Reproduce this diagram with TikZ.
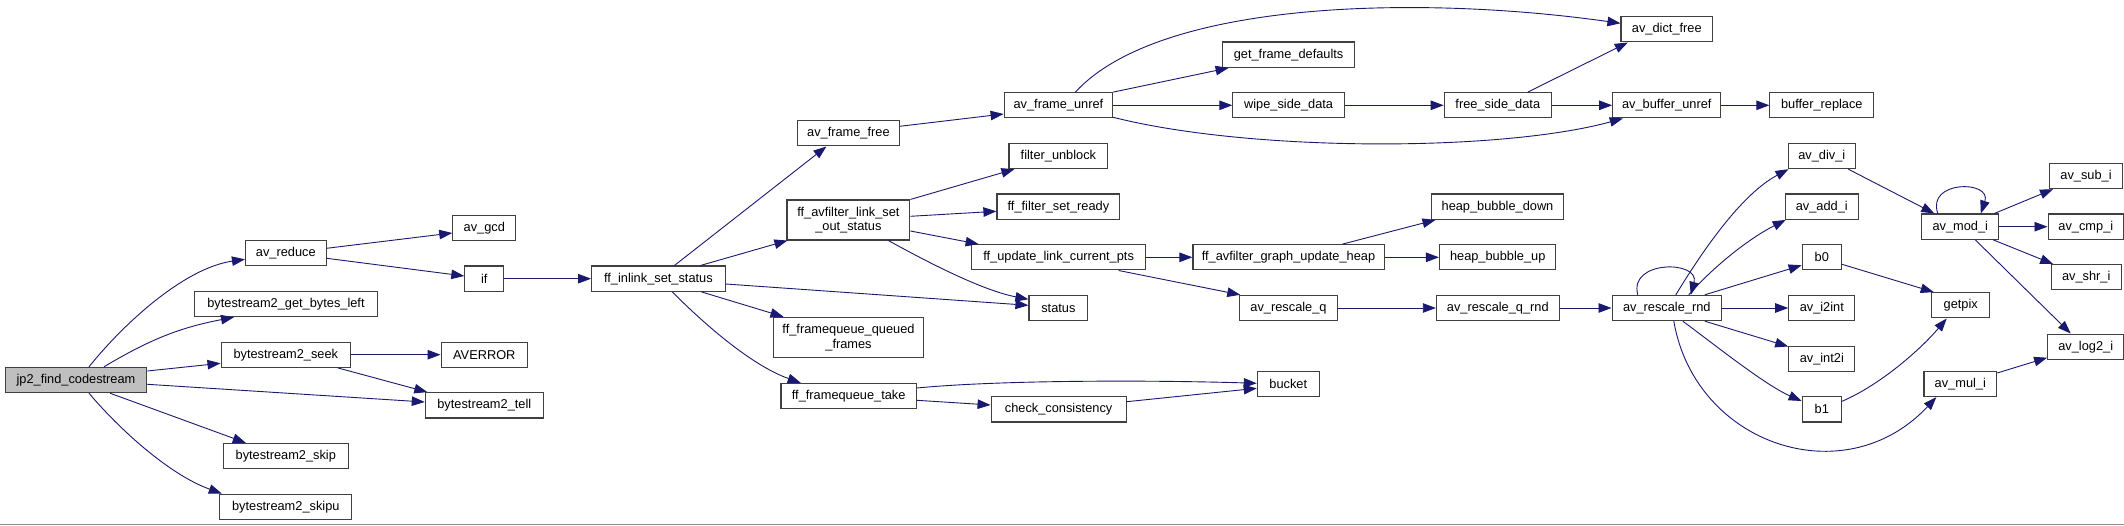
\documentclass[tikz,border=0pt]{standalone}
\usepackage{fontspec}
\setmainfont{Liberation Sans}
\usetikzlibrary{arrows.meta}
\definecolor{edgecol}{RGB}{25,25,112}
\definecolor{boxline}{RGB}{64,64,64}
\definecolor{rootfill}{RGB}{191,191,191}
\tikzset{
  box/.style={draw=boxline, line width=1.1pt, fill=white, inner sep=0pt, minimum height=25.3pt, align=center, font=\fontsize{12.8}{14.7}\selectfont},
  tall/.style={minimum height=40pt},
  root/.style={fill=rootfill},
  edge/.style={draw=edgecol, line width=0.9pt, -{Triangle[length=13pt,width=9.5pt]}}
}
\begin{document}
\begin{tikzpicture}[x=1pt,y=1pt]
\useasboundingbox (0,0) rectangle (2124,-526);
\fill[white] (0,0) rectangle (2124,-526);
\draw[line width=1.2pt, draw=black!45] (0,-524.8) -- (2124,-524.8);

% nodes
\node[box,root,minimum width=141.5pt] (jp2) at (76,-380) {jp2\_find\_codestream};
\node[box,minimum width=80.6pt] (reduce) at (285.8,-253.3) {av\_reduce};
\node[box,minimum width=63pt] (gcd) at (484.3,-228) {av\_gcd};
\node[box,minimum width=38.9pt] (if) at (484.3,-278.7) {if};
\node[box,minimum width=182.8pt] (gbl) at (286,-304) {bytestream2\_get\_bytes\_left};
\node[box,minimum width=129.5pt] (seek) at (285.8,-354.7) {bytestream2\_seek};
\node[box,minimum width=86.4pt] (averror) at (484.3,-354.7) {AVERROR};
\node[box,minimum width=118pt] (tell) at (484.3,-405.3) {bytestream2\_tell};
\node[box,minimum width=125.4pt] (skip) at (285.8,-456) {bytestream2\_skip};
\node[box,minimum width=132.2pt] (skipu) at (285.8,-506.7) {bytestream2\_skipu};
\node[box,minimum width=133.6pt] (inlink) at (658.4,-278.7) {ff\_inlink\_set\_status};
\node[box,minimum width=101.5pt] (frfree) at (848.4,-133.3) {av\_frame\_free};
\node[box,tall,minimum width=122.9pt] (lsos) at (848.4,-220) {ff\_avfilter\_link\_set\\\_out\_status};
\node[box,tall,minimum width=150.8pt] (qf) at (848.5,-337.3) {ff\_framequeue\_queued\\\_frames};
\node[box,minimum width=135.4pt] (take) at (848.7,-396) {ff\_framequeue\_take};
\node[box,minimum width=108.5pt] (unref) at (1058.4,-105.3) {av\_frame\_unref};
\node[box,minimum width=98.9pt] (fu) at (1058.4,-156) {filter\_unblock};
\node[box,minimum width=122.9pt] (fsr) at (1058.4,-206.7) {ff\_filter\_set\_ready};
\node[box,minimum width=173.6pt] (ulcp) at (1058.6,-257.3) {ff\_update\_link\_current\_pts};
\node[box,minimum width=58.9pt] (status) at (1058.4,-308) {status};
\node[box,minimum width=135pt] (cc) at (1058.6,-409.3) {check\_consistency};
\node[box,minimum width=131.5pt] (gfd) at (1288.6,-54.7) {get\_frame\_defaults};
\node[box,minimum width=111.5pt] (wipe) at (1288.6,-105.3) {wipe\_side\_data};
\node[box,minimum width=191.1pt] (guh) at (1288.5,-257.3) {ff\_avfilter\_graph\_update\_heap};
\node[box,minimum width=97.4pt] (rq) at (1288.5,-308) {av\_rescale\_q};
\node[box,minimum width=62pt] (bucket) at (1288.3,-384) {bucket};
\node[box,minimum width=107.1pt] (fsd) at (1497.8,-105.3) {free\_side\_data};
\node[box,minimum width=132.6pt] (hbd) at (1497.5,-206.7) {heap\_bubble\_down};
\node[box,minimum width=116.4pt] (hbu) at (1497.7,-257.3) {heap\_bubble\_up};
\node[box,minimum width=122.9pt] (rqr) at (1497.8,-308) {av\_rescale\_q\_rnd};
\node[box,minimum width=91.6pt] (dictfree) at (1666.8,-29.3) {av\_dict\_free};
\node[box,minimum width=108.2pt] (bufunref) at (1666.8,-105.3) {av\_buffer\_unref};
\node[box,minimum width=109.5pt] (rnd) at (1666.8,-308) {av\_rescale\_rnd};
\node[box,minimum width=103.9pt] (bufrep) at (1821.8,-105.3) {buffer\_replace};
\node[box,minimum width=67.5pt] (divi) at (1821.8,-156) {av\_div\_i};
\node[box,minimum width=73.1pt] (addi) at (1821.8,-206.7) {av\_add\_i};
\node[box,minimum width=39.3pt] (b0) at (1821.8,-257.3) {b0};
\node[box,minimum width=66.1pt] (i2int) at (1821.8,-308) {av\_i2int};
\node[box,minimum width=66.1pt] (int2i) at (1821.8,-358.7) {av\_int2i};
\node[box,minimum width=39.3pt] (b1) at (1821.8,-409.3) {b1};
\node[box,minimum width=76.8pt] (modi) at (1960.3,-226.7) {av\_mod\_i};
\node[box,minimum width=58.2pt] (getpix) at (1960.7,-305.3) {getpix};
\node[box,minimum width=72.7pt] (muli) at (1960.3,-384) {av\_mul\_i};
\node[box,minimum width=73.3pt] (subi) at (2086,-176) {av\_sub\_i};
\node[box,minimum width=75.5pt] (cmpi) at (2085.8,-226.7) {av\_cmp\_i};
\node[box,minimum width=70.2pt] (shri) at (2086.2,-277.3) {av\_shr\_i};
\node[box,minimum width=76.1pt] (log2i) at (2085.7,-346.7) {av\_log2\_i};

% edges
\draw[edge] ([xshift=13pt]jp2.north) .. controls (125,-322) and (185,-268) .. ([yshift=-6pt]reduce.west);
\draw[edge] ([xshift=28pt]jp2.north) to[bend left=10] ([xshift=-52pt]gbl.south);
\draw[edge] ([yshift=9pt]jp2.east) -- ([yshift=-8.6pt]seek.west);
\draw[edge] ([yshift=-4.3pt]jp2.east) -- ([yshift=3.3pt]tell.west);
\draw[edge] ([xshift=34pt]jp2.south) -- ([xshift=-40pt]skip.north);
\draw[edge] ([xshift=13pt]jp2.south) .. controls (120,-430) and (170,-475) .. ([xshift=-64pt]skipu.north);
\draw[edge] ([yshift=5pt]reduce.east) -- ([yshift=-5pt]gcd.west);
\draw[edge] ([yshift=-5pt]reduce.east) -- ([yshift=2.7pt]if.west);
\draw[edge] (if) -- (inlink);
\draw[edge] (seek) -- (averror);
\draw[edge] ([xshift=52pt]seek.south) -- ([xshift=-57pt]tell.north);
\draw[edge] ([xshift=16pt]inlink.north) -- ([xshift=-22pt]frfree.south);
\draw[edge] ([xshift=42pt]inlink.north) -- ([xshift=1pt]lsos.south west);
\draw[edge] ([yshift=-5.3pt]inlink.east) -- ([yshift=2.7pt]status.west);
\draw[edge] ([xshift=43pt]inlink.south) -- ([xshift=-65pt]qf.north);
\draw[edge] ([xshift=14pt]inlink.south) .. controls (700,-320) and (750,-365) .. ([xshift=-48pt]take.north);
\draw[edge] ([yshift=7pt]frfree.east) -- ([yshift=-8.7pt]unref.west);
\draw[edge] (lsos.north east) -- ([xshift=-44pt]fu.south);
\draw[edge] ([yshift=3.7pt]lsos.east) -- ([yshift=-4.6pt]fsr.west);
\draw[edge] ([yshift=-11pt]lsos.east) -- ([xshift=-80pt]ulcp.north);
\draw[edge] ([xshift=40pt]lsos.south) .. controls (920,-258) and (980,-290) .. ([yshift=8.7pt]status.west);
\draw[edge] ([xshift=17pt]unref.north) .. controls (1160,0) and (1420,5) .. ([yshift=6pt]dictfree.west);
\draw[edge] (unref.north east) -- ([xshift=-60pt]gfd.south);
\draw[edge] (unref) -- (wipe);
\draw[edge] ([yshift=-12pt]unref.east) .. controls (1250,-152) and (1500,-152) .. ([xshift=-44pt]bufunref.south);
\draw[edge] (wipe) -- (fsd);
\draw[edge] ([xshift=30pt]fsd.north) -- ([xshift=-39pt]dictfree.south);
\draw[edge] (fsd) -- (bufunref);
\draw[edge] (bufunref) -- (bufrep);
\draw[edge] (ulcp) -- (guh);
\draw[edge] ([xshift=60pt]ulcp.south) -- ([xshift=1pt]rq.north west);
\draw[edge] ([xshift=54pt]guh.north) -- ([xshift=-62pt]hbd.south);
\draw[edge] (guh) -- (hbu);
\draw[edge] (rq) -- (rqr);
\draw[edge] (rqr) -- (rnd);
\draw[edge] ([yshift=8pt]take.east) .. controls (1000,-380) and (1150,-380) .. ([yshift=0.7pt]bucket.west);
\draw[edge] ([yshift=-4.3pt]take.east) -- ([yshift=4.3pt]cc.west);
\draw[edge] ([yshift=7.6pt]cc.east) -- ([yshift=-4.3pt]bucket.west);
\draw[edge] ([xshift=-29pt]rnd.north) .. controls (1628,-260) and (1700,-260) .. ([xshift=24pt]rnd.north);
\draw[edge] ([xshift=9pt]rnd.north) .. controls (1700,-255) and (1740,-195) .. ([xshift=1pt]divi.south west);
\draw[edge] ([xshift=22pt]rnd.north) .. controls (1715,-265) and (1750,-238) .. ([xshift=1pt]addi.south west);
\draw[edge] ([xshift=38pt]rnd.north) -- ([yshift=-8pt]b0.west);
\draw[edge] (rnd) -- (i2int);
\draw[edge] ([xshift=38pt]rnd.south) -- ([yshift=-1pt]int2i.north west);
\draw[edge] ([xshift=16pt]rnd.south) .. controls (1715,-345) and (1765,-385) .. ([yshift=8.3pt]b1.west);
\draw[edge] ([xshift=7pt]rnd.south) .. controls (1695,-445) and (1845,-495) .. ([xshift=-24pt]muli.south);
\draw[edge] ([xshift=26.5pt]divi.south) -- ([xshift=-26pt]modi.north);
\draw[edge] ([xshift=-22.5pt]modi.north) .. controls (1926,-180) and (1992,-180) .. ([xshift=20.5pt]modi.north);
\draw[edge] ([xshift=34pt]modi.north) -- ([xshift=-33pt]subi.south);
\draw[edge] (modi) -- (cmpi);
\draw[edge] ([xshift=33pt]modi.south) -- ([xshift=-33pt]shri.north);
\draw[edge] ([xshift=15pt]modi.south) -- ([xshift=-15pt]log2i.north);
\draw[edge] ([yshift=-7pt]b0.east) -- ([xshift=-27pt]getpix.north);
\draw[edge] ([yshift=8pt]b1.east) .. controls (1880,-385) and (1920,-350) .. ([xshift=-14pt]getpix.south);
\draw[edge] ([yshift=11pt]muli.east) -- ([yshift=-11pt]log2i.west);
\end{tikzpicture}
\end{document}
